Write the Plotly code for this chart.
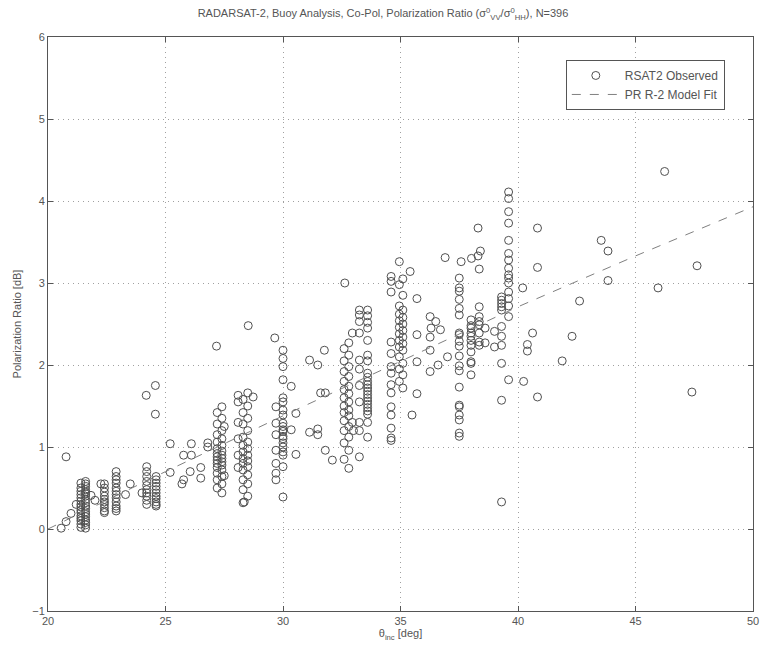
import plotly.graph_objects as go

# ---- Data ----
# Column clusters: (incidence angle, list of polarization ratios in dB)
col_21_4 = [0.56, 0.50, 0.46, 0.42, 0.38, 0.34, 0.30, 0.27, 0.23, 0.20, 0.16, 0.13, 0.10, 0.06, 0.02]
col_21_6 = [0.58, 0.55, 0.52, 0.48, 0.45, 0.43, 0.40, 0.36, 0.32, 0.28, 0.25, 0.21, 0.18, 0.15, 0.11, 0.08, 0.05, 0.01]
col_22_4 = [0.55, 0.50, 0.45, 0.40, 0.36, 0.33, 0.30, 0.26, 0.22, 0.20]
col_22_9 = [0.70, 0.64, 0.60, 0.56, 0.50, 0.46, 0.42, 0.38, 0.33, 0.28, 0.25, 0.22]
col_24_2 = [0.76, 0.70, 0.64, 0.58, 0.53, 0.48, 0.44, 0.40, 0.35, 0.30]
col_24_6 = [0.64, 0.60, 0.56, 0.52, 0.48, 0.44, 0.40, 0.37, 0.33, 0.30, 0.28]
col_27_2 = [1.42, 1.28, 1.15, 1.06, 0.98, 0.92, 0.88, 0.84, 0.80, 0.75, 0.68, 0.60, 0.50]
col_27_4 = [1.49, 1.35, 1.20, 1.10, 1.02, 0.95, 0.90, 0.86, 0.82, 0.78, 0.72, 0.64, 0.55, 0.44]
col_28_3 = [1.58, 1.42, 1.28, 1.12, 1.02, 0.94, 0.86, 0.80, 0.72, 0.60, 0.48, 0.32]
col_28_5 = [1.66, 1.50, 1.35, 1.20, 1.06, 0.98, 0.90, 0.83, 0.76, 0.66, 0.55, 0.40]
col_29_7 = [1.49, 1.29, 1.15, 0.96, 0.80, 0.68, 0.60]
col_30_0 = [2.18, 2.08, 1.98, 1.82, 1.60, 1.55, 1.45, 1.39, 1.29, 1.25, 1.21, 1.19, 1.13, 1.10,
            1.05, 1.00, 0.94, 0.90, 0.76, 0.39]
col_32_6 = [2.20, 2.05, 1.92, 1.80, 1.70, 1.60, 1.50, 1.42, 1.32, 1.20, 1.05, 0.85]
col_32_8 = [2.27, 2.12, 1.98, 1.86, 1.74, 1.65, 1.55, 1.45, 1.38, 1.25, 1.12, 0.96, 0.74]
col_33_25 = [2.67, 2.61, 2.53, 2.39, 2.06, 1.95, 1.75, 1.55, 1.30, 1.20, 0.88]
col_33_6 = [2.67, 2.60, 2.52, 2.45, 2.30, 2.12, 2.05, 1.90, 1.85, 1.80, 1.76, 1.72, 1.68, 1.64,
            1.60, 1.56, 1.52, 1.48, 1.44, 1.40, 1.30, 1.12]
col_34_6 = [3.08, 3.02, 2.89, 2.28, 2.14, 1.98, 1.90, 1.76, 1.66, 1.49, 1.39, 1.23, 1.11, 1.08]
col_34_95 = [3.26, 2.98, 2.72, 2.62, 2.54, 2.46, 2.38, 2.30, 2.22, 2.10, 1.95, 1.80]
col_35_1 = [3.05, 2.85, 2.67, 2.58, 2.50, 2.42, 2.34, 2.26, 2.18, 2.02, 1.88, 1.72]
col_37_5 = [3.06, 2.94, 2.90, 2.80, 2.69, 2.61, 2.39, 2.37, 2.29, 2.23, 2.11, 1.99, 1.93, 1.73,
            1.51, 1.49, 1.39, 1.33, 1.17, 1.13]
col_38_0 = [2.55, 2.48, 2.45, 2.39, 2.35, 2.30, 2.24, 2.16, 2.04, 2.02, 1.88]
col_38_35 = [2.71, 2.59, 2.53, 2.49, 2.39, 2.28, 2.24]
col_39_3 = [2.83, 2.79, 2.75, 2.71, 2.67, 2.47, 2.35, 2.24, 2.02, 1.57, 0.33]
col_39_6 = [4.11, 4.03, 3.87, 3.73, 3.52, 3.36, 3.28, 3.18, 3.10, 3.06, 3.00, 2.89, 2.81, 2.72,
            2.59, 1.82]

column_angles = [21.4, 21.6, 22.4, 22.9, 24.2, 24.6, 27.2, 27.4, 28.3, 28.5, 29.7, 30.0, 32.6,
                 32.8, 33.25, 33.6, 34.6, 34.95, 35.1, 37.5, 38.0, 38.35, 39.3, 39.6]
column_values = [col_21_4, col_21_6, col_22_4, col_22_9, col_24_2, col_24_6, col_27_2, col_27_4,
                 col_28_3, col_28_5, col_29_7, col_30_0, col_32_6, col_32_8, col_33_25, col_33_6,
                 col_34_6, col_34_95, col_35_1, col_37_5, col_38_0, col_38_35, col_39_3, col_39_6]

# Scattered individual observations
scatter_x = [20.77, 20.56, 20.77, 20.98, 21.2, 21.83, 22.25, 22.0, 23.3, 23.5, 24.0, 24.18, 24.57,
             24.57, 25.2, 25.2, 25.77, 26.1, 26.1, 25.77, 25.7, 26.05, 26.5, 26.5, 26.8, 26.8,
             27.17, 27.5, 27.5, 28.09, 28.09, 28.09, 28.09, 28.09, 28.09, 28.35, 28.52, 28.73,
             29.65, 30.35, 30.35, 30.55, 30.55, 31.13, 31.48, 31.13, 31.48, 31.48, 31.6, 31.8,
             31.76, 31.8, 32.1, 32.63, 32.95, 32.95, 33.0, 35.41, 35.7, 35.7, 35.7, 35.7, 35.49,
             36.26, 36.26, 36.26, 36.26, 36.9, 37.58, 38.02, 38.3, 38.4, 38.3, 38.35, 38.6, 38.6,
             39.0, 39.0, 40.83, 40.83, 40.2, 40.62, 40.4, 40.4, 40.24, 40.83, 42.3, 41.88, 42.62,
             43.54, 43.83, 43.83, 46.24, 47.62, 45.96, 47.4, 36.5, 36.7, 36.3, 36.6, 37.0]
scatter_y = [0.88, 0.01, 0.09, 0.19, 0.30, 0.41, 0.55, 0.35, 0.42, 0.55, 0.44, 1.63, 1.75,
             1.40, 1.04, 0.69, 0.90, 0.90, 1.04, 0.60, 0.55, 0.70, 0.75, 0.62, 1.00, 1.05,
             2.23, 1.25, 0.65, 1.63, 1.55, 1.30, 1.10, 0.90, 0.75, 0.33, 2.48, 1.61,
             2.33, 1.74, 1.21, 1.41, 0.91, 2.06, 2.00, 1.18, 1.22, 1.15, 1.66, 1.66,
             2.18, 0.96, 0.84, 3.00, 2.39, 1.30, 1.20, 3.14, 2.81, 2.37, 2.04, 1.65, 1.39,
             2.59, 2.34, 2.18, 1.92, 3.31, 3.26, 3.30, 3.33, 3.39, 3.67, 3.17, 2.45, 2.27,
             2.41, 2.22, 3.67, 3.19, 2.94, 2.39, 2.25, 2.17, 1.80, 1.61, 2.35, 2.05, 2.78,
             3.52, 3.39, 3.03, 4.36, 3.21, 2.94, 1.67, 2.53, 2.43, 2.45, 2.00, 2.10]

# Model fit curve
fit_x = [20, 25, 30, 35, 40, 45, 50]
fit_y = [0.0, 0.70, 1.38, 2.05, 2.71, 3.33, 3.93]

x_ticks = [20, 25, 30, 35, 40, 45, 50]
y_ticks = [-1, 0, 1, 2, 3, 4, 5, 6]

# ---- Assemble observations ----
obs_x, obs_y = [], []
for ang, vals in zip(column_angles, column_values):
    obs_x += [ang] * len(vals)
    obs_y += vals
obs_x += scatter_x
obs_y += scatter_y

fig = go.Figure()
fig.add_trace(go.Scatter(
    x=obs_x, y=obs_y, mode="markers", name="RSAT2 Observed",
    marker=dict(symbol="circle-open", size=8, color="#505050", line=dict(width=1, color="#505050")),
))
fig.add_trace(go.Scatter(
    x=fit_x, y=fit_y, mode="lines", name="PR R-2 Model Fit",
    line=dict(color="#808080", width=1, dash="dash"),
))

axis_common = dict(
    showline=True, mirror="ticks", linecolor="#555555", linewidth=1,
    ticks="inside", ticklen=5, tickcolor="#555555",
    showgrid=True, gridcolor="#a0a0a0", griddash="1px,4px", gridwidth=1,
    zeroline=False, tickfont=dict(family="Liberation Sans, Arial", size=11, color="#555555"),
)

fig.update_layout(
    width=766, height=645,
    margin=dict(l=48, r=7, t=37, b=34),
    paper_bgcolor="white", plot_bgcolor="white",
    font=dict(family="Liberation Sans, Arial", size=11, color="#555555"),
    title=dict(
        text="RADARSAT-2, Buoy Analysis, Co-Pol, Polarization Ratio (σ<sup>0</sup><sub>VV</sub>/σ<sup>0</sup><sub>HH</sub>), N=396",
        x=0.5, xanchor="center", y=0.985, yanchor="top",
        font=dict(size=11, color="#555555"),
    ),
    xaxis=dict(range=[20, 50], tickvals=x_ticks,
               title=dict(text="θ<sub>inc</sub> [deg]", standoff=2, font=dict(size=11)),
               **axis_common),
    yaxis=dict(range=[-1, 6], tickvals=y_ticks,
               title=dict(text="Polarization Ratio [dB]", standoff=8, font=dict(size=11)),
               **axis_common),
    legend=dict(
        x=0.96, xanchor="right", y=0.96, yanchor="top",
        bordercolor="#555555", borderwidth=1, bgcolor="white",
        itemwidth=48,
        font=dict(size=12, color="#555555"),
    ),
    showlegend=True,
)

fig.write_html("out.html")
